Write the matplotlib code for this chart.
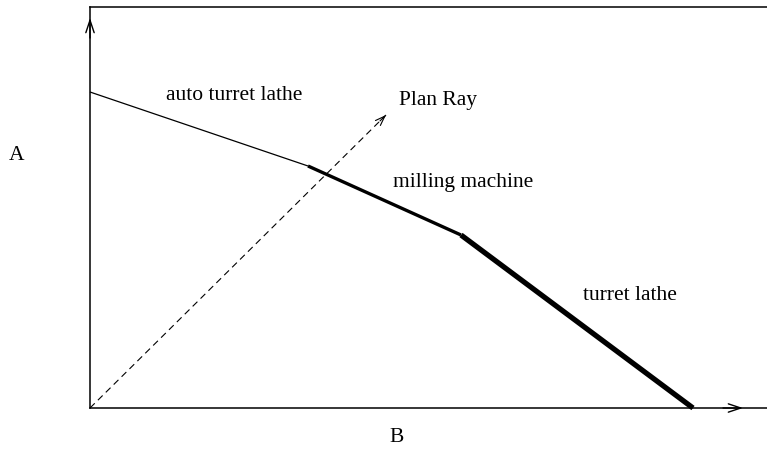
import matplotlib.pyplot as plt

# piecewise frontier (x, y) in chart units, origin at lower left
seg_x = [0, 218, 371, 603]
seg_y = [316, 242, 173, 0]
seg_widths = [0.9, 2.4, 3.8]
seg_names = ["auto turret lathe", "milling machine", "turret lathe"]
name_pos = [(144, 313), (373, 226), (540, 113)]

ray_x = [0, 296]
ray_y = [0, 293]

plt.rcParams['font.family'] = ['Liberation Serif', 'DejaVu Serif']

fig = plt.figure(figsize=(7.67, 4.5), dpi=100)
ax = fig.add_axes([90/767, 42/450, 677/767, 401/450])
ax.set_xlim(0, 677)
ax.set_ylim(0, 401)
ax.set_xticks([])
ax.set_yticks([])
ax.spines['right'].set_visible(False)
for s in ['left', 'bottom', 'top']:
    ax.spines[s].set_linewidth(1.1)

for i in range(3):
    ax.plot(seg_x[i:i+2], seg_y[i:i+2], color='black', lw=seg_widths[i],
            solid_capstyle='butt', clip_on=False)
    ax.text(name_pos[i][0], name_pos[i][1], seg_names[i], fontsize=15.5,
            ha='center', va='center')

# plan ray: dashed line plus a solid open head
ax.plot(ray_x, ray_y, color='black', lw=0.8, dashes=(6, 4))
head = dict(arrowstyle='->,head_length=0.7,head_width=0.25', lw=0.8,
            color='black', shrinkA=0, shrinkB=0, mutation_scale=10)
ax.annotate('', xy=(ray_x[1], ray_y[1]),
            xytext=(ray_x[1] - 6, ray_y[1] - 6 * ray_y[1] / ray_x[1]),
            arrowprops=head)
ax.text(348, 307, "Plan Ray", fontsize=15.5, ha='center', va='center')

# axis arrowheads
axhead = dict(arrowstyle='->,head_length=0.9,head_width=0.3', lw=1,
              color='black', shrinkA=0, shrinkB=0, mutation_scale=10)
ax.annotate('', xy=(0, 390), xytext=(0, 370), arrowprops=axhead)
ax.annotate('', xy=(653, 0), xytext=(633, 0), arrowprops=axhead)

fig.text(17/767, 1 - 155/450, "A", fontsize=15.5, ha='center', va='center')
fig.text(397/767, 1 - 437/450, "B", fontsize=15.5, ha='center', va='center')

fig.savefig('out.png', dpi=100)
